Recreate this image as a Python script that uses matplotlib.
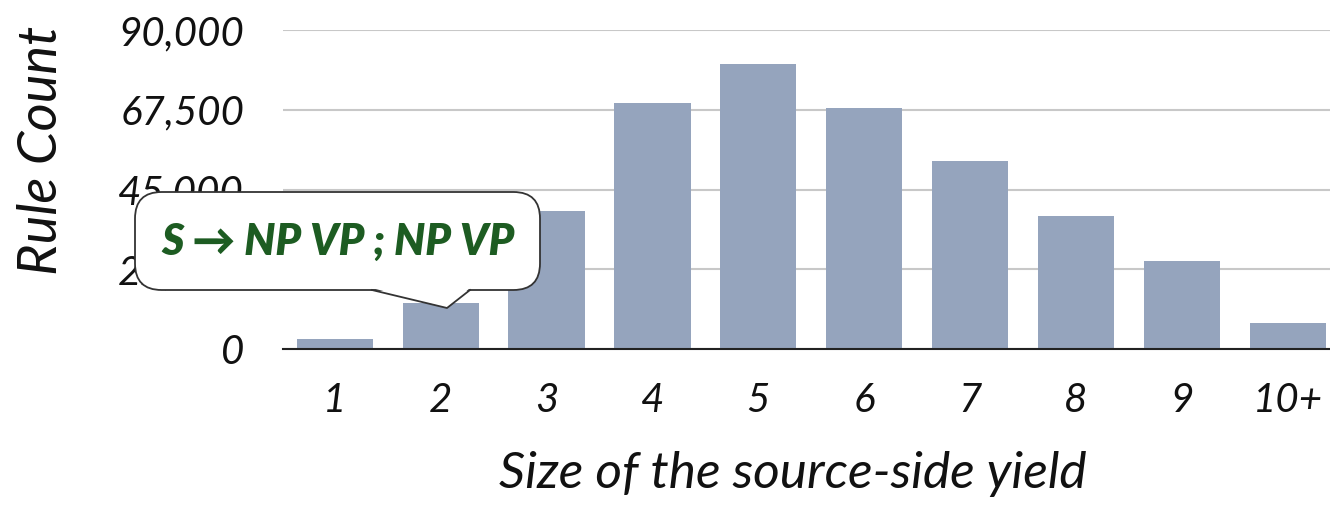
import matplotlib
matplotlib.use("Agg")
import matplotlib.pyplot as plt
from matplotlib.patches import FancyBboxPatch, Polygon
from matplotlib.lines import Line2D
from matplotlib.ticker import FuncFormatter

# values
sizes = ["1", "2", "3", "4", "5", "6", "7", "8", "9", "10+"]
rule_counts = [2700, 13100, 38900, 69400, 80400, 68100, 52900, 37600, 24700, 7200]
y_ticks = [0, 22500, 45000, 67500, 90000]
callout_text = "S \u2192 NP VP ; NP VP"

plt.rcParams['font.family'] = ['Lato', 'DejaVu Sans']

fig = plt.figure(figsize=(13.3, 5.05), dpi=100)
ax = fig.add_axes([283 / 1330, 1 - 349 / 505, 1 - 283 / 1330, (349 - 30) / 505])

x = list(range(len(sizes)))
ax.bar(x, rule_counts, width=0.72, color="#95a4bd", zorder=2)

ax.set_ylim(0, 90000)
ax.set_xlim(-0.49, 9.4)
ax.set_yticks(y_ticks)
ax.yaxis.set_major_formatter(FuncFormatter(lambda v, p: "{:,}".format(int(v))))
ax.set_xticks(x)
ax.set_xticklabels(sizes)

ax.grid(axis="y", color="#c8c8c8", lw=1.5, zorder=0)
for s in ["top", "right", "left"]:
    ax.spines[s].set_visible(False)
ax.spines["bottom"].set_color("#222222")
ax.spines["bottom"].set_linewidth(1.5)
ax.spines["bottom"].set_zorder(3)
ax.tick_params(length=0)
ax.tick_params(axis="y", pad=28, labelsize=29, labelcolor="#111111")
ax.tick_params(axis="x", pad=24, labelsize=29, labelcolor="#111111")
for lab in ax.get_xticklabels() + ax.get_yticklabels():
    lab.set_style("italic")

fig.text(793 / 1330, 1 - 474 / 505, "Size of the source-side yield", ha="center", va="center",
         fontsize=37, style="italic", color="#111111")
fig.text(42 / 1330, 1 - 150 / 505, "Rule Count", ha="center", va="center", rotation=90,
         fontsize=39, style="italic", color="#111111")

# speech bubble callout
W, H = 1330, 505
bx0, bx1, by0, by1 = 135 / W, 540 / W, 1 - 290 / H, 1 - 192 / H
box = FancyBboxPatch((bx0, by0), bx1 - bx0, by1 - by0,
                     boxstyle="round,pad=0,rounding_size=0.02",
                     transform=fig.transFigure, facecolor="white", edgecolor="#333333",
                     lw=1.3, zorder=5, mutation_aspect=W / H)
fig.add_artist(box)
tail = [(372 / W, by0 + 0.004), (447 / W, 1 - 308 / H), (470 / W, by0 + 0.004)]
fig.add_artist(Polygon(tail, closed=True, transform=fig.transFigure,
                       facecolor="white", edgecolor="none", zorder=6))
fig.add_artist(Line2D([372 / W, 447 / W, 470 / W], [by0, 1 - 308 / H, by0],
                      transform=fig.transFigure, color="#333333", lw=1.3, zorder=7))
fig.text(338 / W, 1 - 242 / H, callout_text, ha="center", va="center", fontsize=31,
         fontweight="heavy", style="italic", color="#1d5c22", zorder=8)

fig.savefig("out.png", dpi=100)
